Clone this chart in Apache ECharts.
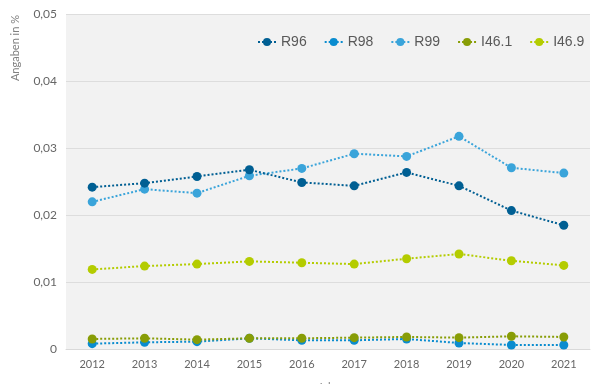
<!DOCTYPE html>
<html>
<head>
<meta charset="utf-8">
<script src="https://cdn.jsdelivr.net/npm/echarts@6/dist/echarts.min.js"></script>
<style>
html,body{margin:0;padding:0;background:#fff;}
#chart{width:600px;height:384px;}
</style>
</head>
<body>
<div id="chart"></div>
<script>
var years = ['2012','2013','2014','2015','2016','2017','2018','2019','2020','2021'];
var r96  = [0.0242,0.0248,0.0258,0.0268,0.0249,0.0244,0.0264,0.0244,0.0207,0.0185];
var r98  = [0.0008,0.0010,0.0011,0.0016,0.0013,0.0013,0.0015,0.0009,0.0006,0.0006];
var r99  = [0.0220,0.0239,0.0233,0.0259,0.0270,0.0292,0.0288,0.0318,0.0271,0.0263];
var i461 = [0.0015,0.0016,0.0014,0.0016,0.0016,0.0017,0.0018,0.0017,0.0019,0.0018];
var i469 = [0.0119,0.0124,0.0127,0.0131,0.0129,0.0127,0.0135,0.0142,0.0132,0.0125];
var seriesNames = ['R96','R98','R99','I46.1','I46.9'];
var seriesColors = ['#005f93','#0a8ccf','#3aa4da','#889d06','#b4cc00'];
var seriesData = [r96, r98, r99, i461, i469];
var yTicks = {min:0, max:0.05, interval:0.01};

var chart = echarts.init(document.getElementById('chart'), null, {renderer:'canvas'});
var series = seriesNames.map(function(n, i){
  return {
    name: n, type: 'line', data: seriesData[i],
    symbol: 'circle', symbolSize: 9,
    itemStyle: {color: seriesColors[i]},
    lineStyle: {color: seriesColors[i], width: 2, type: 'dotted'},
    z: i === 1 ? 2 : 3
  };
});
series = [series[1], series[3], series[4], series[2], series[0]];
chart.setOption({
  animation: false,
  backgroundColor: '#ffffff',
  grid: {left: 66, right: 10, top: 14.6, bottom: 35, show: true, backgroundColor: '#f2f2f2', borderWidth: 0,
         containLabel: false, outerBoundsMode: 'none'},
  legend: {
    data: seriesNames,
    top: 30, left: 252,
    itemWidth: 18, itemHeight: 10, itemGap: 17,
    textStyle: {fontFamily: 'Liberation Sans', fontSize: 14, color: '#595959'}
  },
  xAxis: {
    type: 'category', data: years, boundaryGap: true,
    name: 'Jahr', nameLocation: 'middle', nameGap: 33,
    nameTextStyle: {fontFamily: 'Lato', fontSize: 11, color: '#808080'},
    axisLine: {show: true, lineStyle: {color: '#d9d9d9'}},
    axisTick: {show: false},
    axisLabel: {fontFamily: 'Lato', fontSize: 11, color: '#666666', margin: 10}
  },
  yAxis: {
    type: 'value', min: yTicks.min, max: yTicks.max, interval: yTicks.interval,
    axisLine: {show: false}, axisTick: {show: false},
    splitLine: {lineStyle: {color: '#dddddd', width: 1}},
    axisLabel: {fontFamily: 'Lato', fontSize: 12, color: '#666666', margin: 9,
      formatter: function(v){ return v === 0 ? '0' : v.toFixed(2).replace('.', ','); }}
  },
  graphic: [{
    type: 'text', left: 10, top: 15, rotation: Math.PI/2,
    style: {text: 'Angaben in %', font: '11px Lato', fill: '#808080'}
  }],
  series: series
});
</script>
</body>
</html>
